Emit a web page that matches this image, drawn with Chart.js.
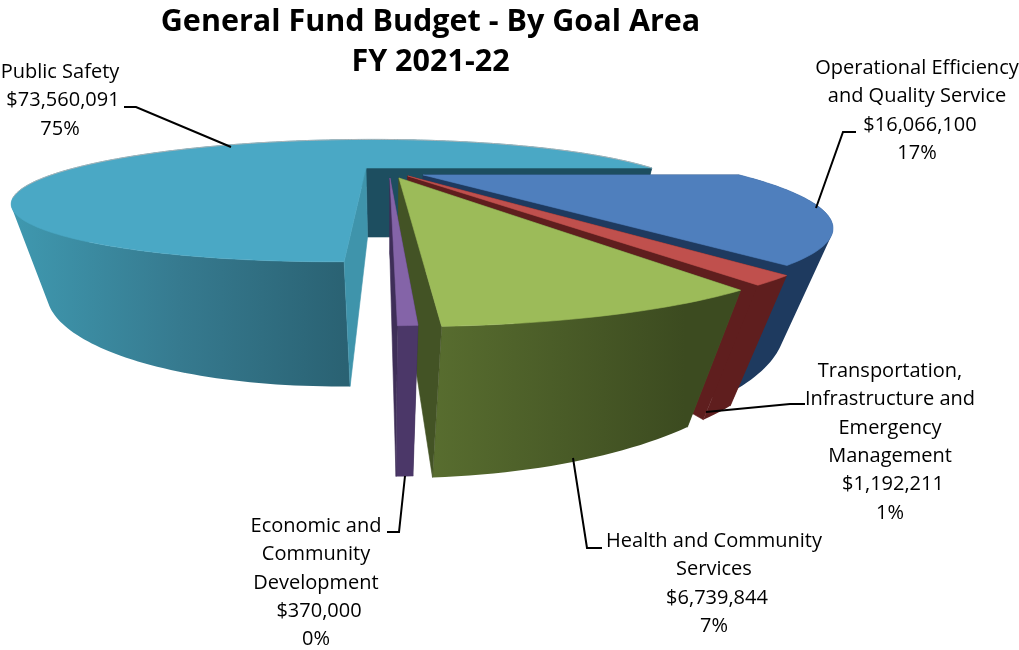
<!DOCTYPE html>
<html>
<head>
<meta charset="utf-8">
<style>html,body{margin:0;padding:0;background:#fff}canvas{display:block}</style>
<script src="https://cdn.jsdelivr.net/npm/chart.js@4"></script>
</head>
<body>
<canvas id="c" width="1019" height="650"></canvas>
<script>
// ---- data ----
const categories = ["Public Safety","Operational Efficiency and Quality Service","Transportation, Infrastructure and Emergency Management","Health and Community Services","Economic and Community Development"];
const budget = [73560091,16066100,1192211,6739844,370000];
const percentLabels = ["75%","17%","1%","7%","0%"];
const titleLines = ["General Fund Budget - By Goal Area","FY 2021-22"];
const nameLines = [["Public Safety"],["Operational Efficiency","and Quality Service"],["Transportation,","Infrastructure and","Emergency","Management"],["Health and Community","Services"],["Economic and","Community","Development"]];

// ---- styling ----
const topColors = ["#4aa8c5","#4f7fbd","#c0504d","#9cbb59","#8464a8"];
const startCut = ["#3f94ab","#1e3a5f","#5f1e1e","#435325","#3e2e58"];
const endCut = ["#1d4e60","#1e3a5f","#5f1e1e","#435325","#3e2e58"];
const wallStops = [
  [[15,"#3f98af"],[180,"#367a8f"],[345,"#2a6273"]],
  [[730,"#1e3a5f"],[830,"#1e3a5f"]],
  [[685,"#5f1e1e"],[780,"#5f1e1e"]],
  [[433,"#586d2f"],[685,"#3c4b20"]],
  [[397,"#4b3768"],[419,"#4b3768"]]
];
const explode = [[0,0],[.19,.147],[.14,.167],[.111,.204],[.083,.204]];
const sliceRadius = [1.005,1.03,1.06,1.04,1.037];
const view = {xc:389,xa:366,ya:168,f:287,a:43.6,k:.53,m:.01,n:.072,p:74};
const labelStyle = {font:'20px "Open Sans"',lh:28.4};
const labelBoxes = [{x:60,y:72},{x:917,y:68},{x:890,y:371},{x:714,y:541},{x:316,y:526}];
const leaders = [
  [[124,107],[136,107],[231,147]],
  [[856,132],[843,132],[816,208]],
  [[805,404],[790,404],[706,412]],
  [[602,548],[587,548],[573,458]],
  [[387,532],[399,532],[405,476]]
];

function project(x,y,deep){
  const w = 1 - view.k*y + view.m*x + (deep?view.n:0);
  return [view.xc + (view.xa-view.xc+view.f*x)/w, view.ya + (view.a*y+(deep?view.p:0))/w];
}
const money = v => "$"+v.toLocaleString("en-US");

const pie3d = {
  id:"pie3d",
  afterDatasetsDraw(chart){
    const ctx = chart.ctx;
    const arcs = chart.getDatasetMeta(0).data;
    ctx.save();
    arcs.forEach((arc,i)=>{
      const a0 = arc.startAngle, a1 = arc.endAngle;
      const ex = explode[i], r = sliceRadius[i];
      const at = (a,deep)=>project(ex[0]+r*Math.cos(a), ex[1]+r*Math.sin(a), deep);
      const apex = deep=>project(ex[0],ex[1],deep);
      const poly = (pts,color)=>{
        ctx.beginPath();
        pts.forEach((p,j)=>j?ctx.lineTo(p[0],p[1]):ctx.moveTo(p[0],p[1]));
        ctx.closePath();
        ctx.fillStyle=color;ctx.strokeStyle=color;ctx.lineWidth=.6;
        ctx.fill();ctx.stroke();
      };
      const steps = Math.max(2,Math.ceil((a1-a0)/(Math.PI/180)));
      const cutStart=()=>poly([apex(false),at(a0,false),at(a0,true),apex(true)],startCut[i]);
      const cutEnd=()=>poly([apex(false),at(a1,false),at(a1,true),apex(true)],endCut[i]);
      const rim=()=>{
        const stops = wallStops[i];
        const x0=stops[0][0], x1=stops[stops.length-1][0];
        const g = ctx.createLinearGradient(x0,0,x1,0);
        stops.forEach(s=>g.addColorStop((s[0]-x0)/(x1-x0),s[1]));
        ctx.beginPath();
        for(let s=0;s<steps;s++){
          const b0=a0+(a1-a0)*s/steps, b1=a0+(a1-a0)*(s+1)/steps;
          let q=[at(b0,false),at(b1,false),at(b1,true),at(b0,true)];
          let area=0;
          q.forEach((p,j)=>{const n=q[(j+1)%4];area+=p[0]*n[1]-n[0]*p[1];});
          if(area<0) q.reverse();
          q.forEach((p,j)=>j?ctx.lineTo(p[0],p[1]):ctx.moveTo(p[0],p[1]));
          ctx.closePath();
        }
        ctx.fillStyle=g;ctx.fill("nonzero");
      };
      if(i===0){ rim(); cutEnd(); cutStart(); }
      else { cutStart(); rim(); cutEnd(); }
      // top face
      const top=[apex(false)];
      for(let s=0;s<=steps;s++) top.push(at(a0+(a1-a0)*s/steps,false));
      poly(top,topColors[i]);
      if(i===0){
        // thin grey rim on the far side
        ctx.beginPath();
        let started=false;
        for(let s=0;s<=steps;s++){
          const b=a0+(a1-a0)*s/steps, p=at(b,false);
          if(Math.sin(b)<.5){ started?ctx.lineTo(p[0],p[1]):ctx.moveTo(p[0],p[1]); started=true; }
        }
        ctx.strokeStyle="#a9b4b8";ctx.lineWidth=1;ctx.stroke();
      }
    });
    // leaders
    ctx.strokeStyle="#000";ctx.lineWidth=2;ctx.lineJoin="miter";
    leaders.forEach(l=>{
      ctx.beginPath();
      l.forEach((p,j)=>j?ctx.lineTo(p[0],p[1]):ctx.moveTo(p[0],p[1]));
      ctx.stroke();
    });
    // labels
    ctx.fillStyle="#000";ctx.font=labelStyle.font;ctx.textAlign="center";ctx.textBaseline="middle";
    categories.forEach((c,i)=>{
      const names=nameLines[i], b=labelBoxes[i];
      names.forEach((t,j)=>ctx.fillText(t,b.x,b.y+j*labelStyle.lh));
      ctx.fillText(money(budget[i]),b.x+3,b.y+names.length*labelStyle.lh);
      ctx.fillText(percentLabels[i],b.x,b.y+(names.length+1)*labelStyle.lh);
    });
    ctx.restore();
  }
};

new Chart(document.getElementById("c"),{
  type:"pie",
  data:{labels:categories,datasets:[{data:budget,backgroundColor:"transparent",borderWidth:0}]},
  options:{
    responsive:false,animation:false,devicePixelRatio:1,
    rotation:179.6,
    layout:{padding:{top:2,right:158}},
    plugins:{
      legend:{display:false},tooltip:{enabled:false},
      title:{display:true,text:titleLines,color:"#000",font:{family:'"Open Sans"',size:30.5,weight:"bold",lineHeight:1.32},padding:{top:0,bottom:0}}
    }
  },
  plugins:[pie3d]
});
</script>
</body>
</html>
